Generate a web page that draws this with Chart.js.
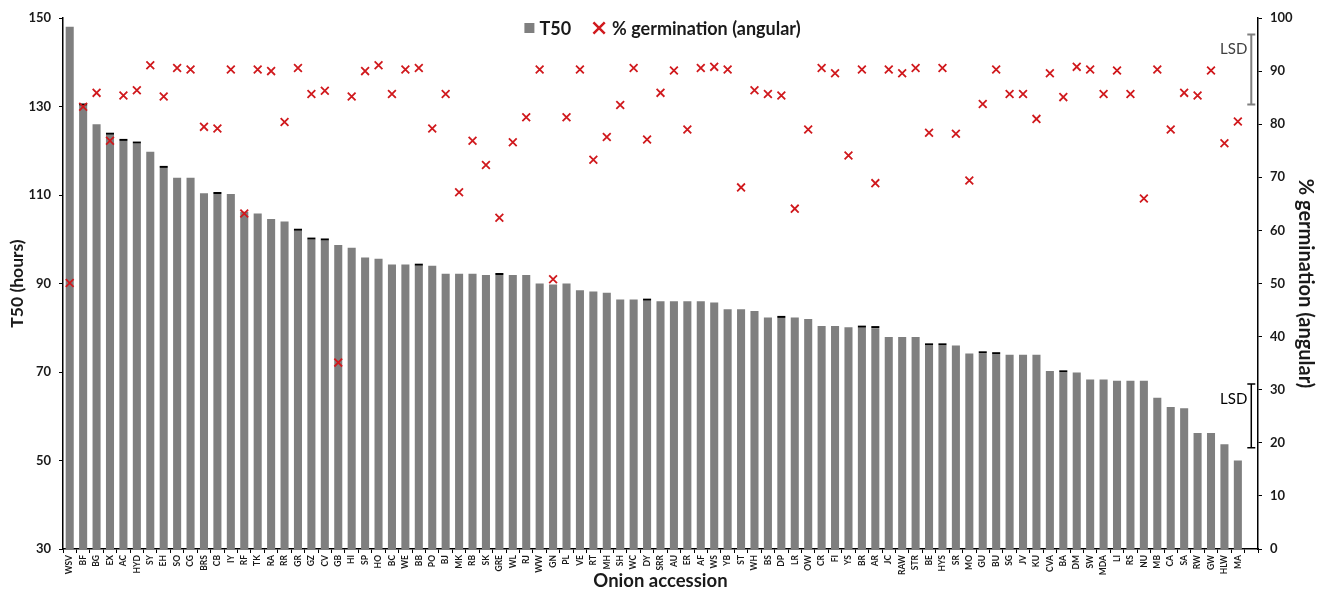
<!DOCTYPE html>
<html lang="en">
  <head>
    <meta charset="utf-8" />
    <style>
      * {
        margin: 0;
        padding: 0;
      }
      body {
        background: #fff;
      }
      .chartBox {
        width: 1320px;
        height: 592px;
      }
    </style>
  </head>
  <body>
    <div class="chartBox">
      <canvas id="myChart"></canvas>
    </div>
    <script src="https://cdn.jsdelivr.net/npm/chart.js/dist/chart.umd.min.js"></script>
    <script>
      // data
      const accessions = [
        "WSV", "BF", "BG", "EX", "AC", "HYD", "SY", "EH", "SO", "CG",
        "BRS", "CB", "IY", "RF", "TK", "RA", "RR", "GR", "GZ", "CV",
        "GB", "HI", "SP", "HO", "BC", "WE", "BB", "PO", "BJ", "MK",
        "RB", "SK", "GRE", "WL", "RJ", "WW", "GN", "PL", "VE", "RT",
        "MH", "SH", "WC", "DY", "SRR", "AU", "ER", "AF", "WS", "YB",
        "ST", "WH", "BS", "DP", "LR", "OW", "CR", "FI", "YS", "BR",
        "AR", "JC", "RAW", "STR", "BE", "HYS", "SR", "MO", "GU", "BU",
        "SG", "JV", "KU", "CVA", "BA", "DM", "SW", "MDA", "LI", "RS",
        "NU", "MB", "CA", "SA", "RW", "GW", "HLW", "MA",
      ];

      const t50 = [
        148.0, 130.2, 126.0, 123.6, 122.2, 121.6, 119.8, 116.1, 113.9, 113.9,
        110.4, 110.2, 110.2, 106.2, 105.8, 104.6, 104.0, 101.9, 99.9, 99.7,
        98.7, 98.1, 95.9, 95.6, 94.3, 94.3, 94.0, 94.0, 92.2, 92.2,
        92.2, 91.9, 91.9, 91.9, 91.9, 90.0, 89.8, 90.0, 88.5, 88.2,
        87.9, 86.4, 86.4, 86.1, 86.0, 86.0, 86.0, 86.0, 85.7, 84.2,
        84.2, 83.8, 82.3, 82.2, 82.3, 82.0, 80.4, 80.4, 80.1, 80.0,
        79.9, 77.9, 77.9, 77.9, 76.0, 76.0, 76.0, 74.2, 74.2, 74.0,
        73.9, 73.9, 73.9, 70.2, 69.9, 69.9, 68.3, 68.3, 68.0, 68.0,
        68.0, 64.2, 62.1, 61.8, 56.2, 56.2, 53.7, 50.0,
      ];

      // small standard errors (only visible as caps on a few bars)
      const t50Err = [
        0, 0.25, 0, 0.25, 0.25, 0.25, 0, 0.25, 0, 0,
        0, 0.25, 0, 0, 0, 0, 0, 0.25, 0.25, 0.25,
        0, 0, 0, 0, 0, 0, 0.25, 0, 0, 0,
        0, 0, 0.25, 0, 0, 0, 0, 0, 0, 0,
        0, 0, 0, 0.25, 0, 0, 0, 0, 0, 0,
        0, 0, 0, 0.25, 0, 0, 0, 0, 0, 0.25,
        0.25, 0, 0, 0, 0.25, 0.25, 0, 0, 0.25, 0.25,
        0, 0, 0, 0, 0.25, 0, 0, 0, 0, 0,
        0, 0, 0, 0, 0, 0, 0, 0,
      ];

      const germination = [
        50.1, 83.3, 85.9, 76.9, 85.4, 86.4, 91.1, 85.2, 90.6, 90.3,
        79.5, 79.2, 90.3, 63.2, 90.3, 90.0, 80.4, 90.6, 85.7, 86.3,
        35.1, 85.2, 90.0, 91.1, 85.7, 90.3, 90.6, 79.2, 85.7, 67.2,
        76.9, 72.3, 62.4, 76.6, 81.3, 90.3, 50.8, 81.3, 90.3, 73.3,
        77.6, 83.6, 90.6, 77.1, 85.9, 90.1, 79.0, 90.6, 90.8, 90.3,
        68.1, 86.4, 85.7, 85.4, 64.1, 79.0, 90.6, 89.6, 74.1, 90.3,
        68.9, 90.3, 89.6, 90.6, 78.4, 90.6, 78.2, 69.4, 83.8, 90.3,
        85.7, 85.7, 81.0, 89.6, 85.1, 90.8, 90.3, 85.7, 90.1, 85.7,
        66.0, 90.3, 79.0, 85.9, 85.4, 90.1, 76.4, 80.5,
      ];

      // LSD bars: [low, high]
      const lsdGerm = [83.7, 96.9];
      const lsdT50 = [52.9, 67.3];

      const t50Axis = { min: 30, max: 150, step: 20 };
      const germAxis = { min: 0, max: 100, step: 10 };

      const FONT = "Lato, 'Open Sans', sans-serif";
      const RED = "#d0191d";
      const GREY = "#7f7f7f";
      Chart.defaults.font.family = FONT;
      Chart.defaults.color = "#1a1a1a";

      // error caps on the bars
      const capPlugin = {
        id: "caps",
        afterDatasetDraw(chart, args) {
          if (args.index !== 0) return;
          const ctx = chart.ctx;
          const y = chart.scales.y;
          ctx.save();
          ctx.strokeStyle = "#000";
          ctx.lineWidth = 2;
          args.meta.data.forEach((bar, i) => {
            if (!t50Err[i]) return;
            const py = y.getPixelForValue(t50[i] + t50Err[i]);
            ctx.beginPath();
            ctx.moveTo(bar.x - bar.width / 2, py);
            ctx.lineTo(bar.x + bar.width / 2, py);
            ctx.stroke();
          });
          ctx.restore();
        },
      };

      // LSD bars in the last (empty) slot
      const lsdPlugin = {
        id: "lsd",
        afterDatasetsDraw(chart) {
          const ctx = chart.ctx;
          const x = chart.scales.x.getPixelForValue(accessions.length);
          const draw = (scale, range, color, width) => {
            const top = scale.getPixelForValue(range[1]);
            const bot = scale.getPixelForValue(range[0]);
            ctx.strokeStyle = color;
            ctx.lineWidth = width;
            ctx.beginPath();
            ctx.moveTo(x, top);
            ctx.lineTo(x, bot);
            ctx.moveTo(x - 4, top);
            ctx.lineTo(x + 4, top);
            ctx.moveTo(x - 4, bot);
            ctx.lineTo(x + 4, bot);
            ctx.stroke();
            ctx.fillStyle = color === GREY ? "#404040" : "#000";
            ctx.font = "15px " + FONT;
            ctx.textAlign = "right";
            ctx.textBaseline = "middle";
            ctx.fillText("LSD", x - 4, top + 15);
          };
          ctx.save();
          draw(chart.scales.y2, lsdGerm, GREY, 2);
          draw(chart.scales.y, lsdT50, "#000", 1.5);
          ctx.restore();
        },
      };

      // legend drawn inside the plot, at the top centre
      const legendPlugin = {
        id: "innerLegend",
        afterDraw(chart) {
          const ctx = chart.ctx;
          const ca = chart.chartArea;
          const [bars, pts] = chart.data.datasets;
          ctx.save();
          ctx.font = "bold 18px " + FONT;
          const w1 = ctx.measureText(bars.label).width;
          const w2 = ctx.measureText(pts.label).width;
          const total = 10 + 5 + w1 + 22 + 12 + 7 + w2;
          let x = (ca.left + ca.right) / 2 - total / 2 + 2;
          const y = 28;
          ctx.fillStyle = GREY;
          ctx.fillRect(x, y - 5, 10, 10);
          x += 15;
          ctx.fillStyle = "#1a1a1a";
          ctx.textBaseline = "middle";
          ctx.fillText(bars.label, x, y + 1);
          x += w1 + 22 + 6;
          ctx.strokeStyle = RED;
          ctx.fillStyle = RED;
          ctx.lineWidth = 2.5;
          Chart.helpers.drawPoint(ctx, { pointStyle: "crossRot", radius: 8, borderWidth: 2.5 }, x, y);
          x += 6 + 7;
          ctx.fillStyle = "#1a1a1a";
          ctx.fillText(pts.label, x, y + 1);
          ctx.restore();
        },
      };

      const data = {
        labels: [...accessions, ""],
        datasets: [
          {
            type: "bar",
            label: "T50",
            data: t50,
            yAxisID: "y",
            backgroundColor: GREY,
            barPercentage: 0.6,
            categoryPercentage: 1,
            order: 2,
          },
          {
            type: "line",
            label: "% germination (angular)",
            data: germination,
            yAxisID: "y2",
            showLine: false,
            pointStyle: "crossRot",
            pointRadius: 5.5,
            pointBorderWidth: 1.8,
            borderColor: RED,
            backgroundColor: RED,
            order: 1,
          },
        ],
      };

      const config = {
        type: "bar",
        data,
        options: {
          responsive: true,
          maintainAspectRatio: false,
          animation: false,
          layout: { padding: { top: 18, left: 0, right: 0, bottom: 0 } },
          plugins: {
            legend: { display: false },
            tooltip: { enabled: false },
          },
          scales: {
            x: {
              grid: { drawOnChartArea: false, tickLength: 4, color: "#000", offset: true },
              border: { color: "#000", width: 1.5 },
              ticks: {
                autoSkip: false,
                minRotation: 90,
                maxRotation: 90,
                padding: 2,
                color: "#1a1a1a",
                font: { size: 8.5, weight: "bold" },
              },
              title: {
                display: true,
                text: "Onion accession",
                color: "#1a1a1a",
                font: { size: 18.5, weight: "bold" },
                padding: { top: 0, bottom: 0 },
              },
              afterFit: (s) => {
                s.height = 43;
              },
            },
            y: {
              position: "left",
              min: t50Axis.min,
              max: t50Axis.max,
              grid: { drawOnChartArea: false, tickLength: 4, color: "#000" },
              border: { color: "#000", width: 1.5 },
              ticks: {
                stepSize: t50Axis.step,
                padding: 8,
                color: "#1a1a1a",
                font: { size: 13, weight: "bold" },
              },
              title: {
                display: true,
                text: "T50 (hours)",
                color: "#1a1a1a",
                font: { size: 17.5, weight: "bold" },
                padding: { top: 6.5, bottom: 0 },
              },
              afterFit: (s) => {
                s.width = 63;
              },
            },
            y2: {
              position: "right",
              min: germAxis.min,
              max: germAxis.max,
              grid: { drawOnChartArea: false, tickLength: 4, color: "#000" },
              border: { color: "#000", width: 1.5 },
              ticks: {
                stepSize: germAxis.step,
                padding: 8,
                color: "#1a1a1a",
                font: { size: 13, weight: "bold" },
              },
              title: {
                display: true,
                text: "% germination (angular)",
                color: "#1a1a1a",
                font: { size: 20, weight: "bold" },
                padding: { top: 3, bottom: 0 },
              },
              afterFit: (s) => {
                s.width = 62;
              },
            },
          },
        },
        plugins: [capPlugin, lsdPlugin, legendPlugin],
      };

      const myChart = new Chart(document.getElementById("myChart"), config);
    </script>
  </body>
</html>
